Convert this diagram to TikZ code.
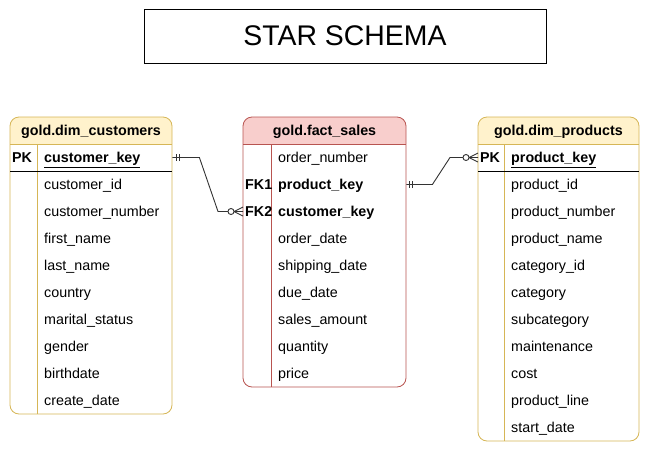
\documentclass[tikz,border=0pt]{standalone}
\usepackage{fontspec}
\setmainfont{Liberation Sans}
\usepackage{xcolor}
\usetikzlibrary{positioning}

\definecolor{dimfill}{HTML}{FFF2CC}
\definecolor{dimline}{HTML}{D6B656}
\definecolor{factfill}{HTML}{F8CECC}
\definecolor{factline}{HTML}{B85450}

\begin{document}
\begin{tikzpicture}[
    x=1pt, y=-1pt,
    every node/.style={font=\fontsize{14.3}{17}\selectfont},
    field/.style={anchor=west, text width=121pt, align=left, inner xsep=7pt, inner ysep=0pt, minimum height=27pt, text height=12pt, text depth=2pt},
    keycol/.style={anchor=west, text width=23pt, align=left, inner xsep=2pt, inner ysep=0pt, minimum height=27pt, text height=12pt, text depth=2pt, font=\fontsize{14.3}{17}\selectfont\bfseries},
    headtext/.style={font=\fontsize{14.3}{17}\selectfont\bfseries, yshift=-1.5pt},
    dimbox/.style={draw=dimline, line width=0.8pt, rounded corners=9pt},
    factbox/.style={draw=factline, line width=0.8pt, rounded corners=9pt},
    rel/.style={draw=black!80, line width=0.9pt}
]
    \useasboundingbox (0,0) rectangle (649,451);

    % Title
    \node[draw, line width=1pt, minimum width=402pt, minimum height=54pt, font=\fontsize{28.4}{34}\selectfont] (title) at (345,36) {STAR SCHEMA};

    % Customers table
    \fill[white, rounded corners=9pt] (10,117) rectangle (172,414);
    \fill[dimfill] (10,144) [rounded corners=9pt] -- (10,117) -- (172,117) [sharp corners] -- (172,144) -- cycle;
    \draw[dimbox] (10,117) rectangle (172,414);
    \draw[dimline, line width=0.8pt] (10,144) -- (172,144) (37,144) -- (37,414);
    \draw[line width=0.8pt] (10,171) -- (172,171);
    \node[headtext] (custhead) at (91,130.5) {gold.dim\_customers};
    \node[keycol] (custpk) at (10,157.5) {PK};
    \node[field] (custkey) at (37,157.5) {\textbf{\underline{customer\_key}}};
    \node[field] (custid) at (37,184.5) {customer\_id};
    \node[field] (custnum) at (37,211.5) {customer\_number};
    \node[field] (custfirst) at (37,238.5) {first\_name};
    \node[field] (custlast) at (37,265.5) {last\_name};
    \node[field] (custcountry) at (37,292.5) {country};
    \node[field] (custmarital) at (37,319.5) {marital\_status};
    \node[field] (custgender) at (37,346.5) {gender};
    \node[field] (custbirth) at (37,373.5) {birthdate};
    \node[field] (custcreate) at (37,400.5) {create\_date};

    % Sales fact table
    \fill[white, rounded corners=9pt] (243,117) rectangle (406,387);
    \fill[factfill] (243,144) [rounded corners=9pt] -- (243,117) -- (406,117) [sharp corners] -- (406,144) -- cycle;
    \draw[factbox] (243,117) rectangle (406,387);
    \draw[factline, line width=0.8pt] (243,144) -- (406,144) (271,144) -- (271,387);
    \node[headtext] (salehead) at (324.5,130.5) {gold.fact\_sales};
    \node[field] (saleorder) at (271,157.5) {order\_number};
    \node[keycol] (salefk1) at (243,184.5) {FK1};
    \node[field] (saleprod) at (271,184.5) {\textbf{product\_key}};
    \node[keycol] (salefk2) at (243,211.5) {FK2};
    \node[field] (salecust) at (271,211.5) {\textbf{customer\_key}};
    \node[field] (saleodate) at (271,238.5) {order\_date};
    \node[field] (saleship) at (271,265.5) {shipping\_date};
    \node[field] (saledue) at (271,292.5) {due\_date};
    \node[field] (saleamount) at (271,319.5) {sales\_amount};
    \node[field] (saleqty) at (271,346.5) {quantity};
    \node[field] (saleprice) at (271,373.5) {price};

    % Products table
    \fill[white, rounded corners=9pt] (478,117) rectangle (639,441);
    \fill[dimfill] (478,144) [rounded corners=9pt] -- (478,117) -- (639,117) [sharp corners] -- (639,144) -- cycle;
    \draw[dimbox] (478,117) rectangle (639,441);
    \draw[dimline, line width=0.8pt] (478,144) -- (639,144) (504,144) -- (504,441);
    \draw[line width=0.8pt] (478,171) -- (639,171);
    \node[headtext] (prodhead) at (558.5,130.5) {gold.dim\_products};
    \node[keycol] (prodpk) at (478,157.5) {PK};
    \node[field] (prodkey) at (504,157.5) {\textbf{\underline{product\_key}}};
    \node[field] (prodid) at (504,184.5) {product\_id};
    \node[field] (prodnum) at (504,211.5) {product\_number};
    \node[field] (prodname) at (504,238.5) {product\_name};
    \node[field] (prodcatid) at (504,265.5) {category\_id};
    \node[field] (prodcat) at (504,292.5) {category};
    \node[field] (prodsubcat) at (504,319.5) {subcategory};
    \node[field] (prodmaint) at (504,346.5) {maintenance};
    \node[field] (prodcost) at (504,373.5) {cost};
    \node[field] (prodline) at (504,400.5) {product\_line};
    \node[field] (prodstart) at (504,427.5) {start\_date};

    % Relations
    \draw[rel] (custkey.east) -- ++(27,0) -- ([xshift=-25pt]salefk2.west) -- (salefk2.west);
    \draw[rel] (saleprod.east) -- ++(26,0) -- ([xshift=-28pt]prodpk.west) -- (prodpk.west);

    % Cardinality marks
    \draw[rel] ([xshift=4pt]custkey.east) ++(0,-3.5) -- ++(0,7) ++(3,0) -- ++(0,-7);
    \draw[rel] ([xshift=3pt]saleprod.east) ++(0,-3.5) -- ++(0,7) ++(3,0) -- ++(0,-7);
    \draw[rel] ([xshift=-9pt]salefk2.west) -- ([yshift=-4.5pt]salefk2.west) ([xshift=-9pt]salefk2.west) -- ([yshift=4.5pt]salefk2.west);
    \draw[rel, fill=white] ([xshift=-12pt]salefk2.west) circle (3);
    \draw[rel] ([xshift=-9pt]prodpk.west) -- ([yshift=-4.5pt]prodpk.west) ([xshift=-9pt]prodpk.west) -- ([yshift=4.5pt]prodpk.west);
    \draw[rel, fill=white] ([xshift=-12pt]prodpk.west) circle (3);
\end{tikzpicture}
\end{document}
